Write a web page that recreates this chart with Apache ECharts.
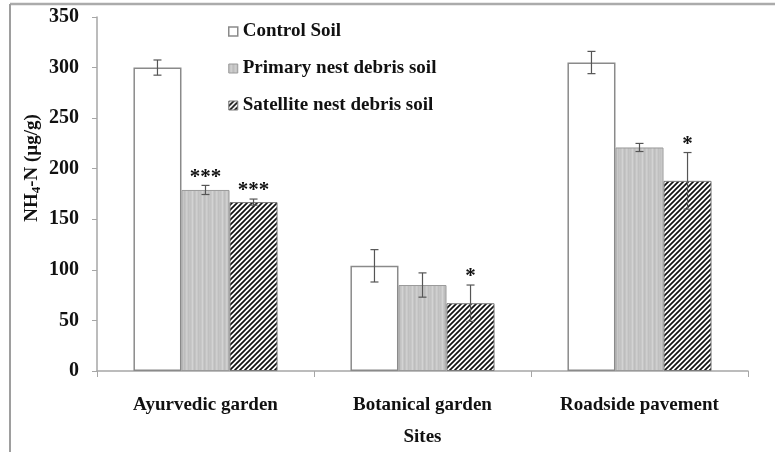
<!DOCTYPE html>
<html>
<head>
<meta charset="utf-8">
<script src="https://cdn.jsdelivr.net/npm/echarts@6/dist/echarts.min.js"></script>
<style>
  html, body { margin: 0; padding: 0; background: #fff; }
  #chart { width: 775px; height: 452px; }
</style>
</head>
<body>
<div id="chart"></div>
<script>
// NH4-N concentration by site and soil type
const categories = ['Ayurvedic garden', 'Botanical garden', 'Roadside pavement'];
const seriesNames = ['Control Soil', 'Primary nest debris soil', 'Satellite nest debris soil'];
const controlValues = [300, 104, 305];
const controlErrors = [7.5, 16, 11];
const primaryValues = [179, 85, 221];
const primaryErrors = [4.5, 12, 4];
const satelliteValues = [167, 67, 188];
const satelliteErrors = [3, 18, 28];
const primaryMarks = ['***', '', ''];
const satelliteMarks = ['***', '*', '*'];
const yTicks = [0, 50, 100, 150, 200, 250, 300, 350];
const yTitle = '{a|NH}{s|4}{a|-N (µg/g)}';

const FONT = "'Liberation Serif', 'Times New Roman', serif";
const CAT_GAP = 0.336;

// Fill patterns: vertical-streaked grey and diagonal hatching
function makeStripes() {
  const c = document.createElement('canvas');
  c.width = 10; c.height = 4;
  const g = c.getContext('2d');
  const cols = ['#c2c2c2', '#c8c8c8', '#d3d3d3', '#c6c6c6', '#bdbdbd', '#c4c4c4', '#cfcfcf', '#c9c9c9', '#bfbfbf', '#c5c5c5'];
  cols.forEach((col, i) => { g.fillStyle = col; g.fillRect(i, 0, 1, 4); });
  return c;
}
function makeHatch() {
  const s = 5;
  const c = document.createElement('canvas');
  c.width = s; c.height = s;
  const g = c.getContext('2d');
  g.fillStyle = '#ffffff';
  g.fillRect(0, 0, s, s);
  g.strokeStyle = '#111111';
  g.lineWidth = 1.7;
  g.beginPath();
  g.moveTo(-1, s + 1); g.lineTo(s + 1, -1);
  g.moveTo(-1, 1); g.lineTo(1, -1);
  g.moveTo(s - 1, s + 1); g.lineTo(s + 1, s - 1);
  g.stroke();
  return c;
}
const stripeFill = { image: makeStripes(), repeat: 'repeat' };
const hatchFill = { image: makeHatch(), repeat: 'repeat' };

const barStyles = [
  { color: '#ffffff', borderColor: '#8a8a8a', borderWidth: 1.5 },
  { color: stripeFill, borderColor: '#9a9a9a', borderWidth: 1 },
  { color: hatchFill, borderColor: '#7a7a7a', borderWidth: 1 }
];
const allValues = [controlValues, primaryValues, satelliteValues];
const allErrors = [controlErrors, primaryErrors, satelliteErrors];
const allMarks = [['', '', ''], primaryMarks, satelliteMarks];

// Error bars (and significance marks) positioned on the grouped bars
function errorSeries(k) {
  const rows = categories.map((c, i) => [i, allValues[k][i], allErrors[k][i], allMarks[k][i]]);
  return {
    type: 'custom',
    name: seriesNames[k] + ' error',
    data: rows,
    z: 5,
    silent: true,
    renderItem: function (params, api) {
      const i = api.value(0);
      const v = api.value(1);
      const e = api.value(2);
      const mark = rows[params.dataIndex][3];
      const band = api.size([1, 0])[0];
      const bw = band * (1 - CAT_GAP) / 3;
      const cx = api.coord([i, v])[0] + (k - 1) * bw;
      const top = api.coord([i, v + e])[1];
      const bot = api.coord([i, v - e])[1];
      const cap = 4;
      const st = { stroke: '#555555', lineWidth: 1.2 };
      const children = [
        { type: 'line', shape: { x1: cx, y1: top, x2: cx, y2: bot }, style: st },
        { type: 'line', shape: { x1: cx - cap, y1: top, x2: cx + cap, y2: top }, style: st },
        { type: 'line', shape: { x1: cx - cap, y1: bot, x2: cx + cap, y2: bot }, style: st }
      ];
      if (mark) {
        children.push({
          type: 'text',
          style: {
            x: cx, y: top - 8, text: mark,
            font: 'bold 21px ' + FONT, fill: '#111',
            textAlign: 'center', textVerticalAlign: 'middle'
          }
        });
      }
      return { type: 'group', children: children };
    }
  };
}

const barSeries = seriesNames.map((name, k) => ({
  type: 'bar',
  name: name,
  data: allValues[k],
  barGap: '0%',
  barCategoryGap: (CAT_GAP * 100) + '%',
  itemStyle: barStyles[k],
  emphasis: { disabled: true }
}));

const chart = echarts.init(document.getElementById('chart'), null, { renderer: 'canvas' });
chart.setOption({
  animation: false,
  backgroundColor: '#ffffff',
  grid: { left: 97, right: 27, top: 17, bottom: 80 },
  legend: {
    orient: 'vertical',
    left: 228,
    top: 22,
    padding: 0,
    itemWidth: 9,
    itemHeight: 9,
    itemGap: 18,
    icon: 'rect',
    textStyle: { fontFamily: FONT, fontWeight: 'bold', fontSize: 19, color: '#111' },
    data: seriesNames.map((n, k) => ({ name: n, itemStyle: barStyles[k] }))
  },
  xAxis: {
    type: 'category',
    data: categories,
    name: 'Sites',
    nameLocation: 'middle',
    nameGap: 57,
    nameTextStyle: { fontFamily: FONT, fontWeight: 'bold', fontSize: 19, color: '#111' },
    axisLine: { lineStyle: { color: '#a6a6a6', width: 1.5 } },
    axisTick: { show: true, length: 6, lineStyle: { color: '#a6a6a6' } },
    axisLabel: { margin: 25, fontFamily: FONT, fontWeight: 'bold', fontSize: 19, color: '#111' }
  },
  yAxis: {
    type: 'value',
    min: yTicks[0],
    max: yTicks[yTicks.length - 1],
    interval: yTicks[1] - yTicks[0],
    splitLine: { show: false },
    axisLine: { show: true, lineStyle: { color: '#a6a6a6', width: 1.5 } },
    axisTick: { show: true, length: 5, lineStyle: { color: '#a6a6a6' } },
    axisLabel: { margin: 18, fontFamily: FONT, fontWeight: 'bold', fontSize: 20, color: '#111' }
  },
  graphic: [
    { type: 'line', shape: { x1: 10, y1: 4, x2: 775, y2: 4 }, style: { stroke: '#ababab', lineWidth: 2.5 } },
    { type: 'line', shape: { x1: 10, y1: 4, x2: 10, y2: 452 }, style: { stroke: '#9e9e9e', lineWidth: 2 } },
    {
      type: 'text',
      x: 32, y: 168,
      rotation: Math.PI / 2,
      style: {
        text: yTitle,
        align: 'center',
        verticalAlign: 'middle',
        rich: {
          a: { fontFamily: FONT, fontWeight: 'bold', fontSize: 19, fill: '#111' },
          s: { fontFamily: FONT, fontWeight: 'bold', fontSize: 13, fill: '#111', padding: [9, 0, 0, 0] }
        }
      }
    }
  ],
  series: barSeries.concat([0, 1, 2].map(errorSeries))
});
</script>
</body>
</html>
